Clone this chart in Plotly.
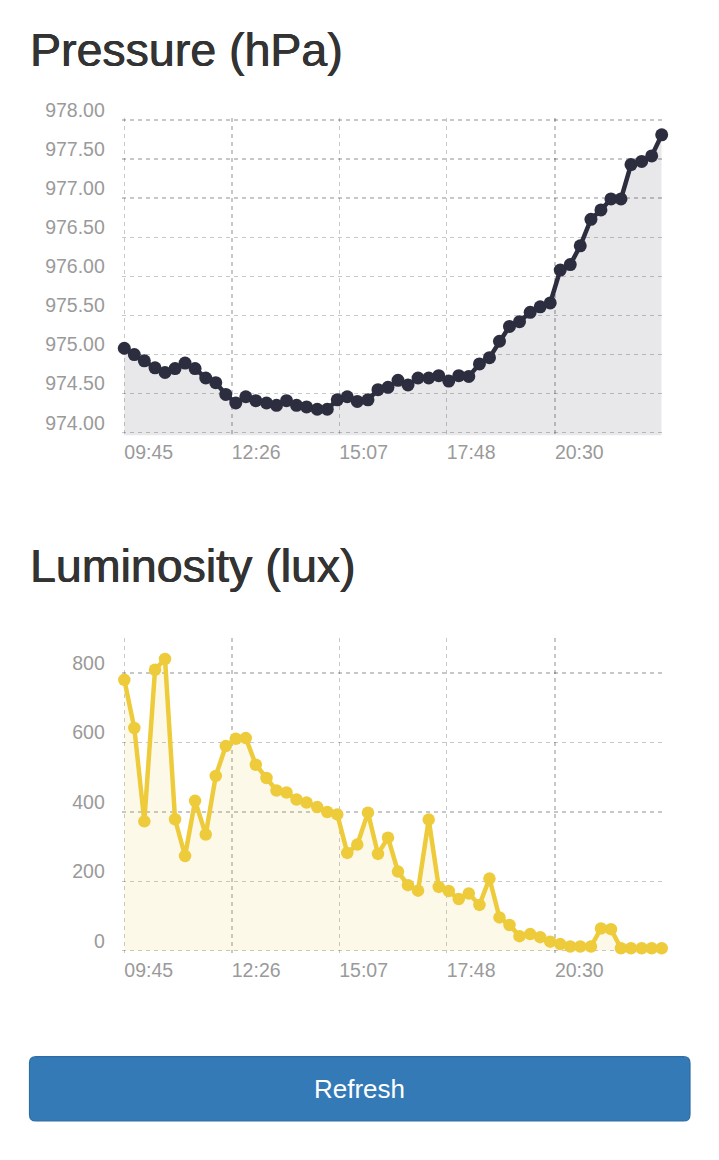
import datetime as _dt
import plotly.graph_objects as go

# ---------------- data ----------------
times = [
    "09:45", "10:00", "10:15", "10:31", "10:46", "11:01", "11:16", "11:31", "11:47", "12:02",
    "12:17", "12:32", "12:47", "13:02", "13:18", "13:33", "13:48", "14:03", "14:18", "14:34",
    "14:49", "15:04", "15:19", "15:34", "15:50", "16:05", "16:20", "16:35", "16:50", "17:05",
    "17:21", "17:36", "17:51", "18:06", "18:21", "18:37", "18:52", "19:07", "19:22", "19:37",
    "19:53", "20:08", "20:23", "20:38", "20:53", "21:08", "21:24", "21:39", "21:54", "22:09",
    "22:24", "22:40", "22:55", "23:10",
]

pressure = [
    975.08, 975.00, 974.92, 974.83, 974.77, 974.82, 974.89, 974.82, 974.70, 974.64,
    974.49, 974.38, 974.46, 974.41, 974.38, 974.35, 974.41, 974.35, 974.33, 974.30,
    974.30, 974.42, 974.46, 974.40, 974.42, 974.55, 974.58, 974.67, 974.61, 974.70,
    974.70, 974.73, 974.66, 974.73, 974.72, 974.88, 974.96, 975.17, 975.36, 975.42,
    975.54, 975.61, 975.66, 976.08, 976.15, 976.39, 976.73, 976.85, 976.99, 976.99,
    977.43, 977.47, 977.54, 977.81,
]

luminosity = [
    781, 642, 373, 810, 841, 379, 273, 432, 335, 504,
    590, 611, 613, 536, 498, 462, 456, 436, 427, 414,
    400, 393, 282, 306, 398, 279, 326, 228, 189, 173,
    378, 184, 172, 149, 165, 132, 208, 96, 74, 42,
    48, 39, 26, 19, 12, 12, 12, 64, 62, 7,
    7, 7, 7, 7,
]

x_tick_labels = ["09:45", "12:26", "15:07", "17:48", "20:30"]
x_range_labels = ["09:45", "23:10"]
pressure_ticks = [974.0, 974.5, 975.0, 975.5, 976.0, 976.5, 977.0, 977.5, 978.0]
pressure_range = [974.0, 978.0]
lux_ticks = [0, 200, 400, 600, 800]
lux_range = [0, 903]

titles = ["Pressure (hPa)", "Luminosity (lux)"]
button_label = "Refresh"

# ---------------- helpers ----------------
DAY = "2024-01-01 "
W, H = 719, 1160
PAD = 2.5  # extra pixels so the edge grid lines are drawn


def d(t):
    return DAY + t + ":00"


def fx(p):
    return p / W


def fy(p):
    return 1 - p / H


FONT = "Liberation Sans, Arial, sans-serif"
LABEL_COLOR = "#9a9a9a"
GRID_COLOR = "rgba(0,0,0,0.22)"

# plot-area geometry (pixels)
X_LEFT, X_RIGHT = 124.3, 661.7
P_TOP, P_BOT = 120.0, 432.7
L_TOP, L_BOT = 637.5, 950.7

x_all = [d(t) for t in times]

t0 = _dt.datetime.fromisoformat(d(x_range_labels[0]))
t1 = _dt.datetime.fromisoformat(d(x_range_labels[1]))
sec_per_px = (t1 - t0).total_seconds() / (X_RIGHT - X_LEFT)
t0_ext = t0 - _dt.timedelta(seconds=sec_per_px * PAD)
x_range = [t0_ext.strftime("%Y-%m-%d %H:%M:%S"), t1.strftime("%Y-%m-%d %H:%M:%S")]
x_dom = [fx(X_LEFT - PAD), fx(X_RIGHT)]

p_per_px = (pressure_range[1] - pressure_range[0]) / (P_BOT - P_TOP)
p_range = [pressure_range[0] - PAD * p_per_px, pressure_range[1] + PAD * p_per_px]
p_dom = [fy(P_BOT + PAD), fy(P_TOP - PAD)]

l_per_px = (lux_range[1] - lux_range[0]) / (L_BOT - L_TOP)
l_range = [lux_range[0] - PAD * l_per_px, lux_range[1]]
l_dom = [fy(L_BOT + PAD), fy(L_TOP)]

fig = go.Figure()

fig.add_trace(go.Scatter(
    x=x_all, y=pressure, mode="lines+markers",
    line=dict(color="#2c2e3f", width=4.5),
    marker=dict(color="#2c2e3f", size=13),
    fill="tozeroy", fillcolor="rgba(44,46,63,0.11)",
    cliponaxis=False, hoverinfo="skip", xaxis="x", yaxis="y",
))

fig.add_trace(go.Scatter(
    x=x_all, y=luminosity, mode="lines+markers",
    line=dict(color="#eecb3b", width=4.5),
    marker=dict(color="#eecb3b", size=12.5),
    fill="tozeroy", fillcolor="rgba(238,203,59,0.11)",
    cliponaxis=False, hoverinfo="skip", xaxis="x2", yaxis="y2",
))

common_x = dict(
    type="date",
    range=x_range,
    tickmode="array",
    tickvals=[d(t) for t in x_tick_labels],
    ticktext=x_tick_labels,
    showgrid=True, gridcolor=GRID_COLOR, griddash="4px,4px", gridwidth=1.5,
    zeroline=False, showline=False, ticks="",
    ticklabelposition="outside right",
    ticklabelstandoff=3,
    tickfont=dict(family=FONT, size=19.5, color=LABEL_COLOR),
    fixedrange=True, automargin=False,
)

common_y = dict(
    showgrid=True, gridcolor=GRID_COLOR, griddash="4px,4px", gridwidth=1.5,
    zeroline=False, showline=False, ticks="",
    ticklabelshift=-10, ticklabelstandoff=16,
    tickfont=dict(family=FONT, size=19.5, color=LABEL_COLOR),
    tickmode="array",
    fixedrange=True, automargin=False,
)

fig.update_layout(
    width=W, height=H,
    margin=dict(l=0, r=0, t=0, b=0, pad=0, autoexpand=False),
    paper_bgcolor="white", plot_bgcolor="white",
    showlegend=False,
    hovermode=False,
    xaxis=dict(domain=x_dom, anchor="y", **common_x),
    yaxis=dict(domain=p_dom, anchor="x", range=p_range,
               tickvals=pressure_ticks, tickformat=".2f", **common_y),
    xaxis2=dict(domain=x_dom, anchor="y2", **common_x),
    yaxis2=dict(domain=l_dom, anchor="x2", range=l_range,
                tickvals=lux_ticks, tickformat="d", **common_y),
)

# titles
for text, cy in zip(titles, [49.8, 565.8]):
    fig.add_annotation(
        text=text, xref="paper", yref="paper",
        x=fx(27.5), y=fy(cy), xanchor="left", yanchor="middle",
        showarrow=False,
        font=dict(family=FONT, size=46.5, color="#333333",
                  shadow="0.5px 0 0 #333333, -0.3px 0 0 #333333"),
    )

# button (rounded rectangle)
bx0, bx1, by0, by1, r = 29.5, 690, 1056.7, 1121, 6.5


def P(px, py):
    return f"{fx(px):.6f},{fy(py):.6f}"


path = (
    f"M {P(bx0 + r, by0)} L {P(bx1 - r, by0)} Q {P(bx1, by0)} {P(bx1, by0 + r)} "
    f"L {P(bx1, by1 - r)} Q {P(bx1, by1)} {P(bx1 - r, by1)} "
    f"L {P(bx0 + r, by1)} Q {P(bx0, by1)} {P(bx0, by1 - r)} "
    f"L {P(bx0, by0 + r)} Q {P(bx0, by0)} {P(bx0 + r, by0)} Z"
)
fig.add_shape(type="path", path=path, xref="paper", yref="paper",
              fillcolor="#337ab7", line=dict(color="#2e6da4", width=1.2),
              layer="above")
fig.add_annotation(
    text=button_label, xref="paper", yref="paper",
    x=fx((bx0 + bx1) / 2), y=fy(1089), xanchor="center", yanchor="middle",
    showarrow=False,
    font=dict(family=FONT, size=26, color="white"),
)

post = (
    "document.documentElement.style.margin='0';"
    "document.documentElement.style.overflow='hidden';"
    "document.body.style.margin='0';"
    "document.body.style.overflow='hidden';"
    "var gd=document.getElementById('{plot_id}');"
    "gd.style.position='fixed';gd.style.top='0px';gd.style.left='0px';"
)

fig.write_html(
    "out.html",
    config={"displayModeBar": False, "staticPlot": True},
    post_script=post,
)
